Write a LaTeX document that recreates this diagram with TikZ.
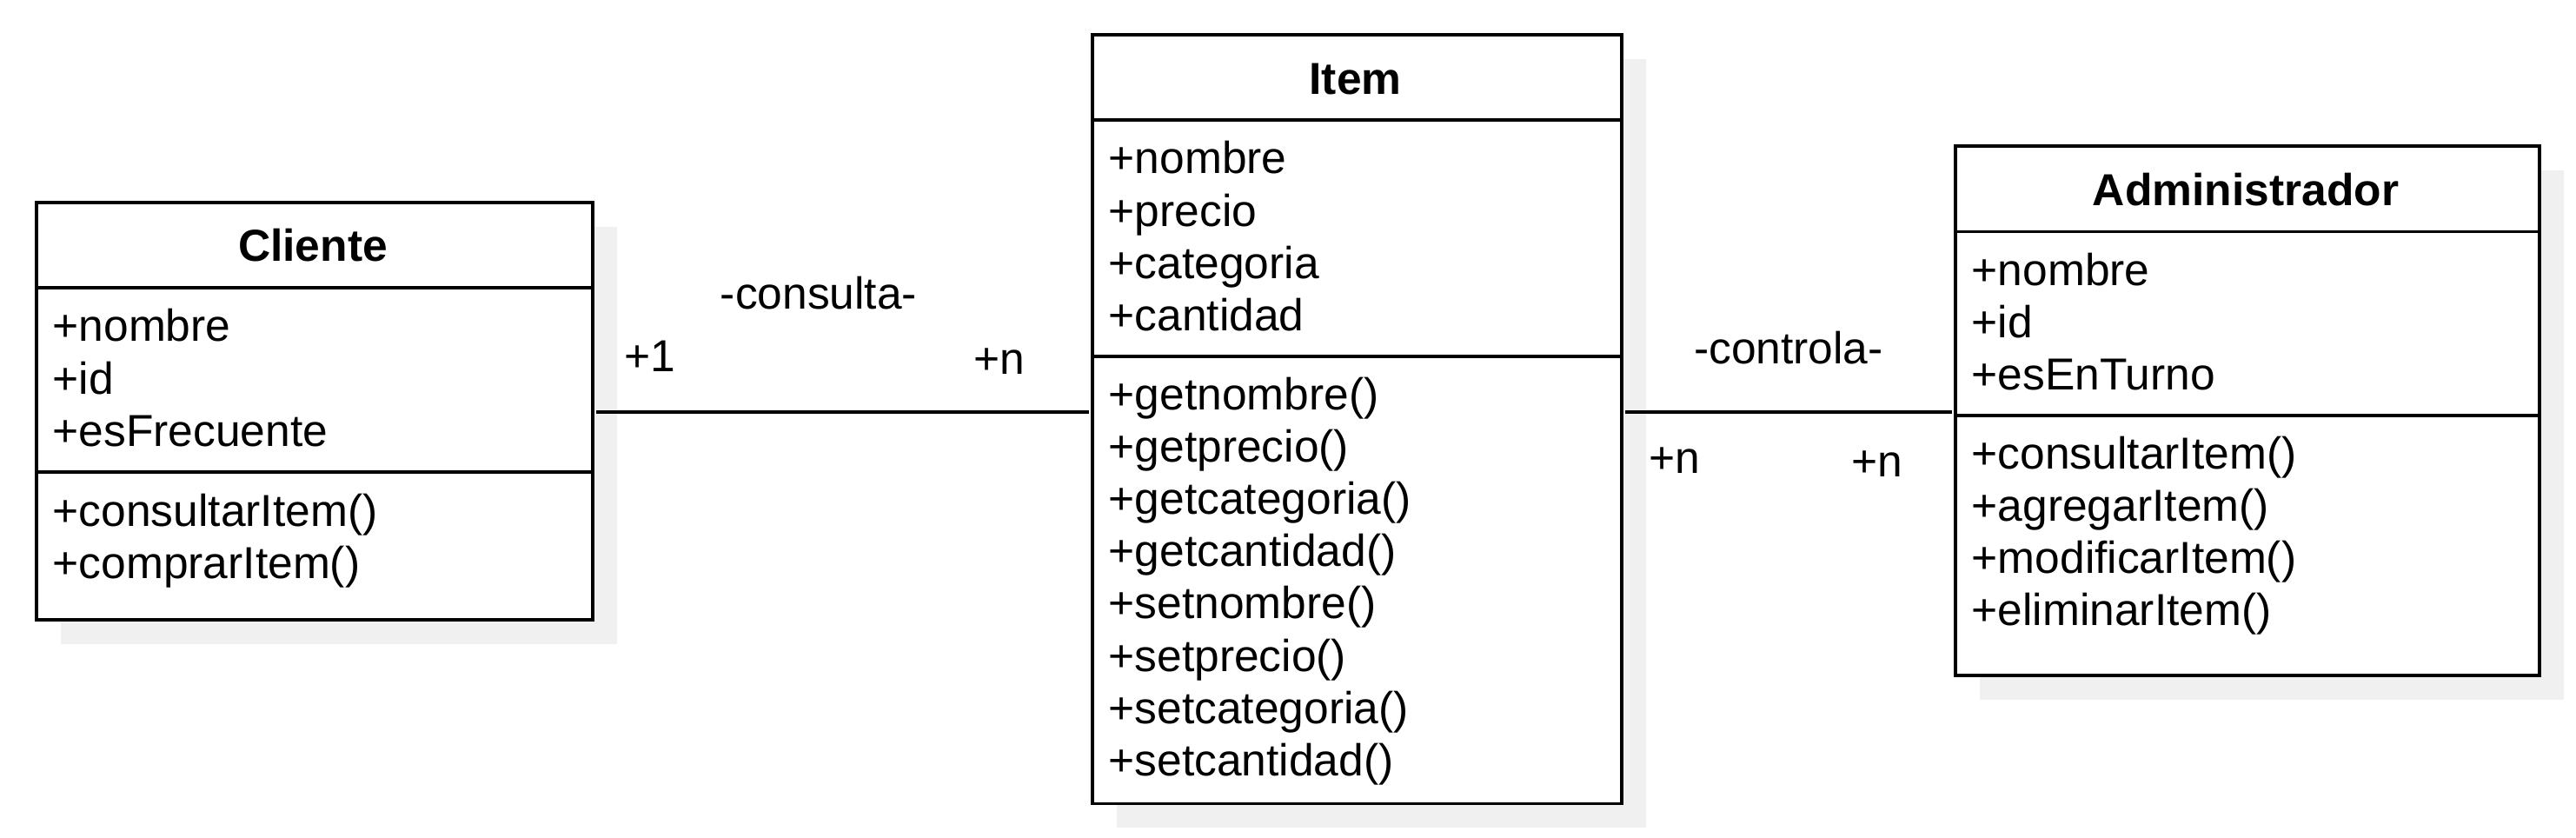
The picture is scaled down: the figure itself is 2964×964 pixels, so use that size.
\documentclass[tikz,border=0pt]{standalone}
\usepackage{fontspec}
\setmainfont{Liberation Sans}
\usetikzlibrary{shadows}
\definecolor{shadowgray}{RGB}{240,240,240}
\tikzset{
	classbox/.style={draw=black, line width=1pt, fill=white, inner sep=0pt, anchor=north west,
		drop shadow={shadow xshift=0.28cm, shadow yshift=-0.28cm, fill=shadowgray, draw=none, opacity=1}},
	sepline/.style={line width=1pt},
	assoc/.style={line width=1pt, shorten <=0.025cm, shorten >=0.025cm},
	classtitle/.style={anchor=base, inner sep=0pt, font=\fontsize{14.65pt}{17pt}\selectfont\bfseries},
	member/.style={anchor=base west, inner sep=0pt, font=\fontsize{14.65pt}{17pt}\selectfont},
	lbl/.style={anchor=base, inner sep=0pt, font=\fontsize{14.65pt}{17pt}\selectfont}
}

\begin{document}
\begin{tikzpicture}[x=0.01cm, y=-0.01cm]
			%%%%% START %%%%%
			\useasboundingbox (0, 0) rectangle (2964, 964);
			
			% Cliente
			\node[classbox, minimum width=6.40cm, minimum height=4.80cm] (cli) at (40, 231) {};
			\draw[sepline] (cli.west |- 0, 331) -- (cli.east |- 0, 331);
			\draw[sepline] (cli.west |- 0, 543) -- (cli.east |- 0, 543);
			\node[classtitle] (cli-t) at (360, 301) {Cliente};
			\foreach \m [count=\i from 0] in {+nombre, +id, +esFrecuente}
				\node[member] (cli-a\i) at (60, 393 + 60.1*\i) {\m};
			\foreach \m [count=\i from 0] in {+consultarItem(), +comprarItem()}
				\node[member] (cli-m\i) at (60, 605 + 60.1*\i) {\m};
			
			% Item
			\node[classbox, minimum width=6.09cm, minimum height=8.84cm] (item) at (1255, 38) {};
			\draw[sepline] (item.west |- 0, 138) -- (item.east |- 0, 138);
			\draw[sepline] (item.west |- 0, 410) -- (item.east |- 0, 410);
			\node[classtitle] (item-t) at (1559.5, 108.5) {Item};
			\foreach \m [count=\i from 0] in {+nombre, +precio, +categoria, +cantidad}
				\node[member] (item-a\i) at (1275, 200 + 60.1*\i) {\m};
			\foreach \m [count=\i from 0] in {+getnombre(), +getprecio(), +getcategoria(), +getcantidad(),
				+setnombre(), +setprecio(), +setcategoria(), +setcantidad()}
				\node[member] (item-m\i) at (1275, 471.5 + 60.1*\i) {\m};
			
			% Administrador
			\node[classbox, minimum width=6.72cm, minimum height=6.09cm] (adm) at (2248, 166) {};
			\draw[sepline] (adm.west |- 0, 266.5) -- (adm.east |- 0, 266.5);
			\draw[sepline] (adm.west |- 0, 478) -- (adm.east |- 0, 478);
			\node[classtitle] (adm-t) at (2584, 236.5) {Administrador};
			\foreach \m [count=\i from 0] in {+nombre, +id, +esEnTurno}
				\node[member] (adm-a\i) at (2268, 328.5 + 60.1*\i) {\m};
			\foreach \m [count=\i from 0] in {+consultarItem(), +agregarItem(), +modificarItem(), +eliminarItem()}
				\node[member] (adm-m\i) at (2268, 539.5 + 60.1*\i) {\m};
			
			% asociaciones
			\coordinate (lineY) at (0, 474);
			\draw[assoc] (cli.east |- lineY) -- (item.west |- lineY);
			\draw[assoc] (item.east |- lineY) -- (adm.west |- lineY);
			
			\node[lbl] (consulta) at (942, 356) {-consulta-};
			\node[lbl] (cons-src) at (748, 428) {+1};
			\node[lbl] (cons-dst) at (1150, 431) {+n};
			
			\node[lbl] (controla) at (2058, 419) {-controla-};
			\node[lbl] (ctrl-src) at (1927, 544) {+n};
			\node[lbl] (ctrl-dst) at (2160, 548) {+n};
			
			%%%%% END %%%%%
\end{tikzpicture}
\end{document}
